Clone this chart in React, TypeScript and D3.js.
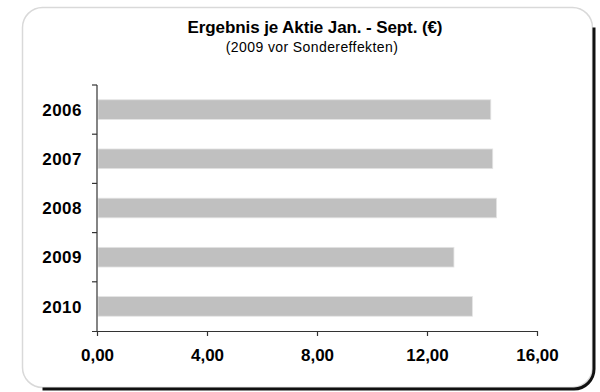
import { useEffect, useRef } from "react";
import * as d3 from "d3";

const years = ["2006", "2007", "2008", "2009", "2010"];
const earnings = [14.32, 14.39, 14.53, 12.98, 13.65];
const xTicks = [0, 4, 8, 12, 16];

export default function App() {
  const svgRef = useRef<SVGSVGElement>(null);

  useEffect(() => {
    if (!svgRef.current) return;

    const svg = d3.select(svgRef.current);
    const width = 600;
    const height = 392;
    const margin = { top: 85, right: 63, bottom: 61, left: 97 };
    const font = "Liberation Sans, Arial, sans-serif";

    svg.selectAll("*").remove();
    svg.attr("width", width).attr("height", height);

    // Frame with dark shadow on right and bottom
    svg
      .append("rect")
      .attr("x", 22.5)
      .attr("y", 7.5)
      .attr("width", 570)
      .attr("height", 380)
      .attr("rx", 20)
      .attr("fill", "#ffffff")
      .attr("stroke", "#d9d9d9")
      .attr("stroke-width", 1.5);

    const r = 20;
    const fx1 = 22.5 + 570;
    const fy1 = 7.5 + 380;
    svg
      .append("path")
      .attr(
        "d",
        `M${fx1 + 1.5},${7.5 + r} L${fx1 + 1.5},${fy1 - r + 1.5} ` +
          `A${r},${r} 0 0 1 ${fx1 - r + 1.5},${fy1 + 1.5} L${22.5 + r},${fy1 + 1.5}`
      )
      .attr("fill", "none")
      .attr("stroke", "#111111")
      .attr("stroke-width", 3);

    const xScale = d3
      .scaleLinear()
      .domain([0, 16])
      .range([margin.left, width - margin.right]);

    const yScale = d3
      .scaleBand()
      .domain(years)
      .range([margin.top, height - margin.bottom])
      .paddingInner(0.6)
      .paddingOuter(0.3);

    // Bars
    svg
      .selectAll("rect.bar")
      .data(years)
      .enter()
      .append("rect")
      .attr("class", "bar")
      .attr("x", xScale(0) + 1)
      .attr("y", (d) => yScale(d)!)
      .attr("width", (d, i) => xScale(earnings[i]) - xScale(0) - 1)
      .attr("height", yScale.bandwidth())
      .attr("fill", "#c0c0c0")
      .attr("stroke", "#e4e4e4")
      .attr("stroke-width", 0.8);

    // Y axis line + ticks between categories
    const yAxis = svg.append("g");
    yAxis
      .append("line")
      .attr("x1", xScale(0))
      .attr("x2", xScale(0))
      .attr("y1", margin.top)
      .attr("y2", height - margin.bottom)
      .attr("stroke", "#333333")
      .attr("stroke-width", 1.2);

    const step = yScale.step();
    const bounds = d3.range(years.length).map((i) => margin.top + i * step);
    yAxis
      .selectAll("line.tick")
      .data(bounds)
      .enter()
      .append("line")
      .attr("class", "tick")
      .attr("x1", xScale(0) - 5)
      .attr("x2", xScale(0))
      .attr("y1", (d) => d)
      .attr("y2", (d) => d)
      .attr("stroke", "#333333")
      .attr("stroke-width", 1.2);

    yAxis
      .selectAll("text")
      .data(years)
      .enter()
      .append("text")
      .attr("x", xScale(0) - 15)
      .attr("y", (d) => yScale(d)! + yScale.bandwidth() / 2)
      .attr("dy", "0.36em")
      .attr("text-anchor", "end")
      .attr("font-family", font)
      .attr("font-weight", "bold")
      .attr("font-size", "17px")
      .attr("letter-spacing", "0.5px")
      .attr("fill", "#000000")
      .text((d) => d);

    // X axis
    const xAxis = svg
      .append("g")
      .attr("transform", `translate(0,${height - margin.bottom})`)
      .call(
        d3
          .axisBottom(xScale)
          .tickValues(xTicks)
          .tickSize(5)
          .tickSizeOuter(0)
          .tickPadding(13)
          .tickFormat((d) => (d as number).toFixed(2).replace(".", ","))
      );
    xAxis
      .select(".domain")
      .attr("d", `M${xScale(0) - 5},0.5H${xScale(16)}`)
      .attr("stroke", "#333333")
      .attr("stroke-width", 1.2);
    xAxis.selectAll(".tick line").attr("stroke", "#333333").attr("stroke-width", 1.2);
    xAxis
      .selectAll("text")
      .attr("fill", "#000000")
      .attr("font-family", font)
      .attr("font-weight", "bold")
      .attr("font-size", "17px");

    // Title
    svg
      .append("text")
      .attr("x", 315)
      .attr("y", 33)
      .attr("text-anchor", "middle")
      .attr("font-family", font)
      .attr("font-weight", "bold")
      .attr("font-size", "17px")
      .attr("letter-spacing", "-0.1px")
      .attr("fill", "#000000")
      .text("Ergebnis je Aktie Jan. - Sept. (€)");

    svg
      .append("text")
      .attr("x", 312)
      .attr("y", 52)
      .attr("text-anchor", "middle")
      .attr("font-family", font)
      .attr("font-size", "14px")
      .attr("letter-spacing", "0.4px")
      .attr("fill", "#000000")
      .text("(2009 vor Sondereffekten)");
  }, []);

  return (
    <svg
      ref={svgRef}
      style={{ position: "absolute", left: 0, top: 0, display: "block" }}
    ></svg>
  );
}
